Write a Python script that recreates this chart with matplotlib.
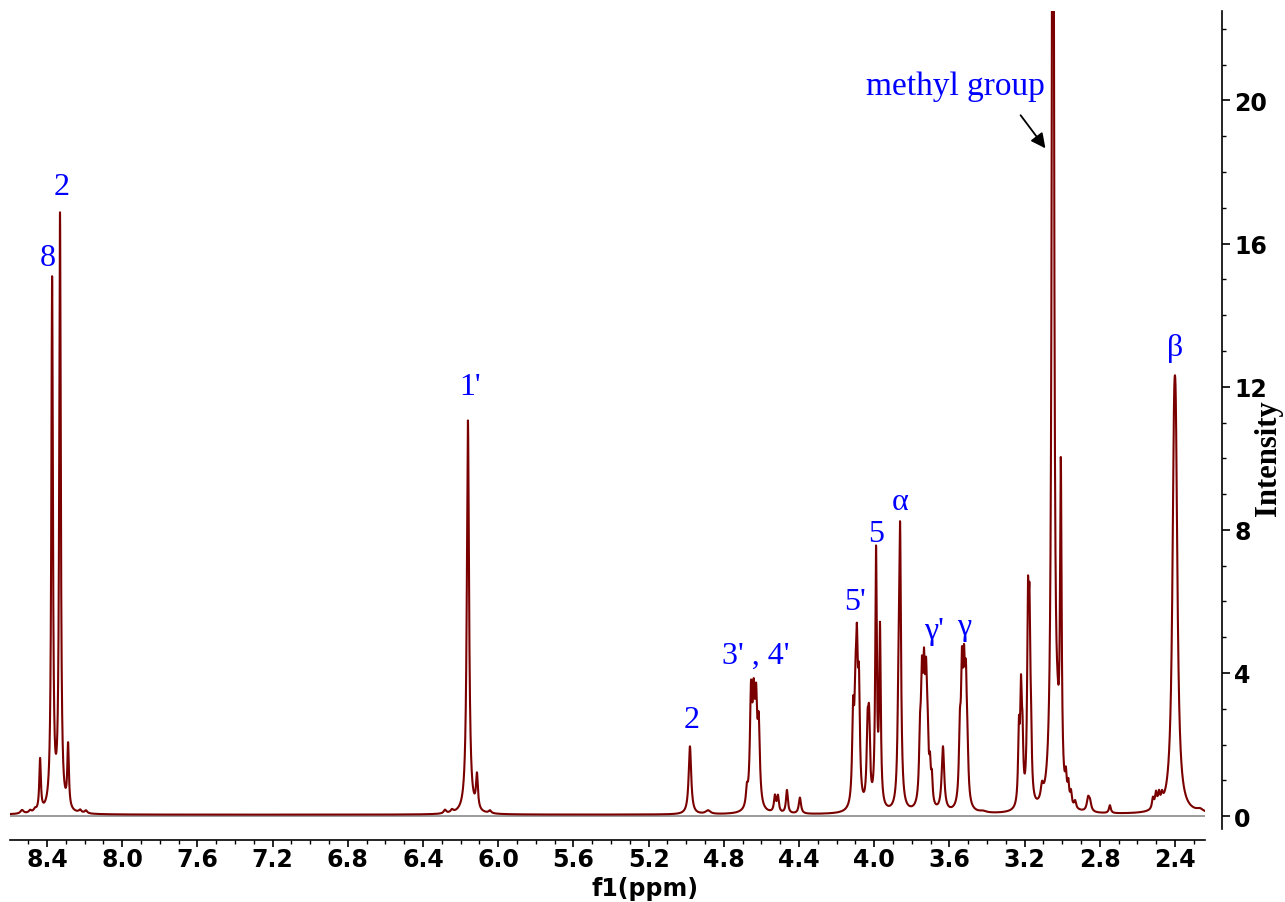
import numpy as np
import matplotlib
matplotlib.use("Agg")
import matplotlib.pyplot as plt
from matplotlib.ticker import MultipleLocator, FixedLocator

# ---- peak table (ppm, height, half-width ppm) ----
peak_ppm = [8.533, 8.490, 8.464, 8.437, 8.373, 8.331, 8.288, 8.224, 8.193,
            6.283, 6.246, 6.161, 6.113, 6.044,
            4.980, 4.884,
            4.677, 4.655, 4.641, 4.628, 4.614,
            4.528, 4.512, 4.464, 4.395,
            4.112, 4.100, 4.092, 4.081, 4.035, 4.027,
            3.990, 3.969, 3.870, 3.862,
            3.756, 3.746, 3.735, 3.724, 3.716, 3.703, 3.693,
            3.634,
            3.544, 3.533, 3.522, 3.512, 3.504, 3.421,
            3.230, 3.219, 3.211, 3.182, 3.174, 3.166, 3.107,
            3.049, 3.025, 3.007, 2.980, 2.967, 2.953, 2.931,
            2.862, 2.852, 2.746,
            2.517, 2.501, 2.485, 2.469,
            2.405, 2.395, 2.267]
peak_height = [0.10, 0.07, 0.08, 1.45, 14.8, 16.6, 1.75, 0.08, 0.08,
               0.10, 0.08, 11.0, 0.95, 0.08,
               1.9, 0.10,
               0.45, 3.0, 2.5, 2.5, 2.1,
               0.45, 0.45, 0.65, 0.45,
               2.4, 2.2, 3.6, 3.0, 1.9, 2.1,
               7.1, 4.9, 2.5, 7.2,
               1.6, 3.0, 3.0, 2.8, 1.5, 0.9, 0.7,
               1.8,
               1.8, 3.3, 3.0, 2.8, 1.1, 0.04,
               2.0, 2.9, 1.6, 5.0, 4.4, 1.6, 0.4,
               40.0, 1.0, 8.9, 0.6, 0.5, 0.35, 0.2,
               0.35, 0.25, 0.22,
               0.3, 0.4, 0.35, 0.25,
               7.4, 7.4, 0.08]
peak_width = [0.010, 0.008, 0.008, 0.005, 0.005, 0.005, 0.005, 0.008, 0.008,
              0.008, 0.008, 0.007, 0.006, 0.008,
              0.008, 0.015,
              0.006, 0.007, 0.007, 0.007, 0.007,
              0.006, 0.006, 0.006, 0.007,
              0.006, 0.006, 0.006, 0.006, 0.006, 0.006,
              0.005, 0.005, 0.006, 0.006,
              0.006, 0.006, 0.006, 0.006, 0.006, 0.005, 0.005,
              0.008,
              0.006, 0.006, 0.006, 0.006, 0.006, 0.02,
              0.005, 0.005, 0.005, 0.005, 0.005, 0.005, 0.008,
              0.006, 0.010, 0.005, 0.005, 0.005, 0.005, 0.006,
              0.008, 0.008, 0.006,
              0.006, 0.006, 0.006, 0.006,
              0.011, 0.011, 0.02]
baseline = 0.04

# annotation labels (text, ppm, intensity)
label_text = ["8", "2", "1'", "2", "3' , 4'", "5'", "5", "α", "γ'", "γ", "β"]
label_ppm = [8.395, 8.32, 6.15, 4.97, 4.63, 4.10, 3.99, 3.86, 3.68, 3.52, 2.40]
label_int = [15.6, 17.6, 12.0, 2.7, 4.5, 6.0, 7.9, 8.8, 5.2, 5.3, 13.1]

x_ticks = [8.4, 8.0, 7.6, 7.2, 6.8, 6.4, 6.0, 5.6, 5.2, 4.8, 4.4, 4.0, 3.6, 3.2, 2.8, 2.4]
y_ticks = [0, 4, 8, 12, 16, 20]

# ---- build spectrum as sum of Lorentzians ----
ppm = np.linspace(8.6, 2.24, 40000)
spec = np.full_like(ppm, baseline)
for c, h, w in zip(peak_ppm, peak_height, peak_width):
    spec += h / (1.0 + ((ppm - c) / w) ** 2)

W, H = 1285, 903
fig = plt.figure(figsize=(W / 100, H / 100), dpi=100)
ax = fig.add_axes([10 / W, 1 - 830 / H, (1205 - 10) / W, (830 - 12) / H])

ax.axhline(0, color="#8a8a8a", lw=1.2, zorder=1)
ax.plot(ppm, spec, color="#7a0000", lw=1.5, zorder=2)

ax.set_xlim(8.597, 2.24)
ax.set_ylim(-0.36, 22.5)

for s in ["top", "left"]:
    ax.spines[s].set_visible(False)
ax.spines["bottom"].set_position(("outward", 8))
ax.spines["right"].set_position(("outward", 12))
ax.spines["bottom"].set_linewidth(1.2)
ax.spines["right"].set_linewidth(1.2)

ax.yaxis.tick_right()
ax.yaxis.set_major_locator(FixedLocator(y_ticks))
ax.yaxis.set_minor_locator(MultipleLocator(1))
ax.xaxis.set_major_locator(FixedLocator(x_ticks))
ax.xaxis.set_minor_locator(MultipleLocator(0.1))
ax.set_xticklabels([f"{v:.1f}" for v in x_ticks])
ax.set_yticklabels([str(v) for v in y_ticks])

ax.tick_params(axis="x", which="major", direction="out", length=5, width=1.2, pad=0,
               labelsize=17)
ax.tick_params(axis="x", which="minor", direction="out", length=3, width=1)
ax.tick_params(axis="y", which="major", direction="out", length=6, width=1.2, pad=3,
               labelsize=17, right=True, left=False)
ax.tick_params(axis="y", which="minor", direction="out", length=3, width=1,
               right=True, left=False)
for lab in ax.get_xticklabels() + ax.get_yticklabels():
    lab.set_fontweight("bold")

for t, xp, yp in zip(label_text, label_ppm, label_int):
    ax.text(xp, yp, t, color="blue", fontsize=23, family="Liberation Serif",
            ha="center", va="center")

ax.annotate("", xy=(3.08, 18.6), xytext=(3.23, 19.65),
            arrowprops=dict(arrowstyle="-|>", color="black", lw=1.3,
                            mutation_scale=22), annotation_clip=False)
ax.text(3.57, 20.4, "methyl group", color="blue", fontsize=24,
        family="Liberation Serif", ha="center", va="center")

fig.text(645 / W, 1 - 889 / H, "f1(ppm)", fontsize=17, fontweight="bold",
         ha="center", va="center")
fig.text(1268 / W, 1 - 458 / H, "Intensity", fontsize=22, fontweight="bold",
         family="Liberation Serif", rotation=90, ha="center", va="center")

fig.savefig("out.png", dpi=100)
